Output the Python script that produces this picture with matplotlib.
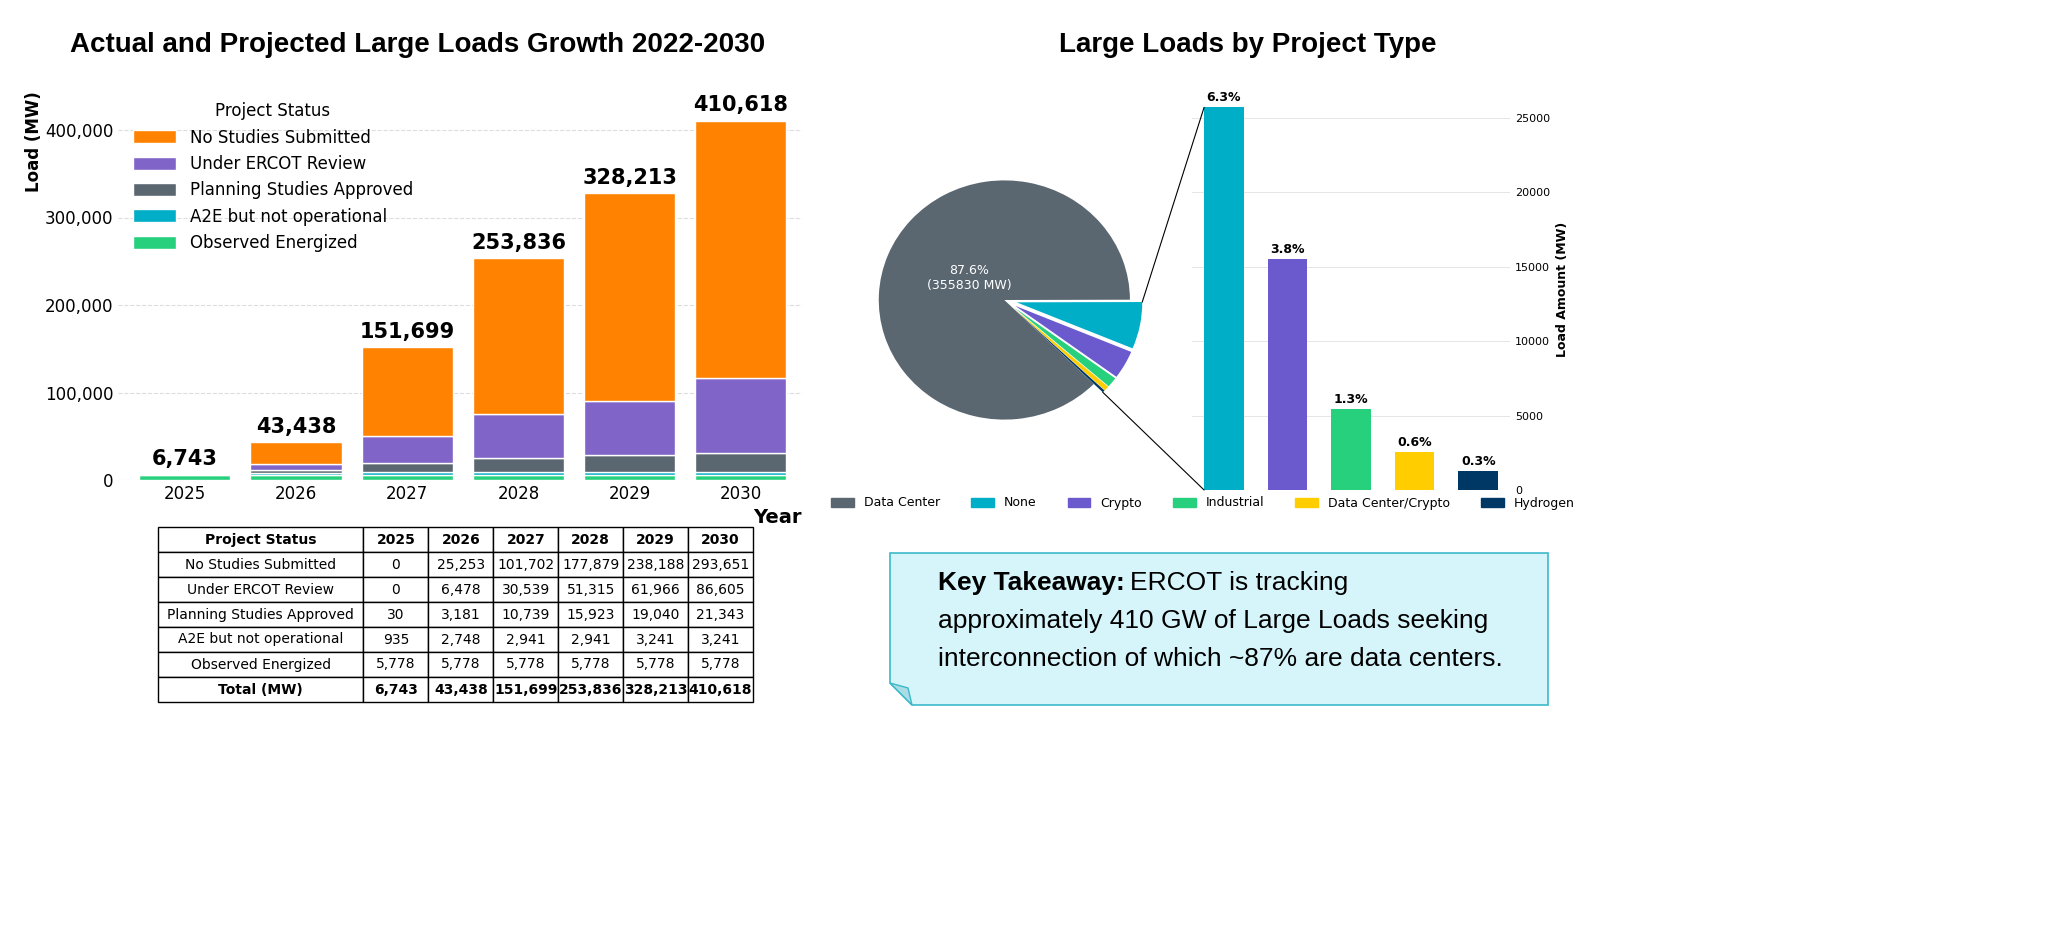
import numpy as np
import matplotlib.pyplot as plt
from matplotlib.patches import ConnectionPatch, Polygon

years = ["2025", "2026", "2027", "2028", "2029", "2030"]
statuses = ["Observed Energized", "A2E but not operational", "Planning Studies Approved",
            "Under ERCOT Review", "No Studies Submitted"]
observed = [5778, 5778, 5778, 5778, 5778, 5778]
a2e = [935, 2748, 2941, 2941, 3241, 3241]
planning = [30, 3181, 10739, 15923, 19040, 21343]
review = [0, 6478, 30539, 51315, 61966, 86605]
nostudy = [0, 25253, 101702, 177879, 238188, 293651]
totals = [6743, 43438, 151699, 253836, 328213, 410618]
status_colors = ["#26D07C", "#00AEC7", "#5B6770", "#8064C8", "#FF8300"]

types = ["Data Center", "None", "Crypto", "Industrial", "Data Center/Crypto", "Hydrogen"]
type_mw = [355830, 25700, 15500, 5450, 2550, 1300]
type_pct = ["87.6%", "6.3%", "3.8%", "1.3%", "0.6%", "0.3%"]
type_colors = ["#5B6770", "#00AEC7", "#6A5ACD", "#26D07C", "#FFCD00", "#003865"]

fig = plt.figure(figsize=(20.48, 9.5), dpi=100)
W, H = 2048, 950

def ax_px(x0, y0, x1, y1):
    return fig.add_axes([x0 / W, 1 - y1 / H, (x1 - x0) / W, (y1 - y0) / H])

# stacked bars
ax = ax_px(118, 95, 802, 480)
x = np.arange(len(years))
bottom = np.zeros(len(years))
series = [observed, a2e, planning, review, nostudy]
handles = []
for name, vals, c in zip(statuses, series, status_colors):
    h = ax.bar(x, vals, 0.82, bottom=bottom, color=c, edgecolor="white", linewidth=1, label=name)
    handles.append(h)
    bottom += np.array(vals)
for xi, t in zip(x, totals):
    ax.text(xi, t + 6000, f"{t:,}", ha="center", va="bottom", fontsize=15, fontweight="bold")
ax.set_xticks(x)
ax.set_xticklabels(years, fontsize=12)
ax.set_xlim(-0.6, 5.55)
ax.set_ylim(0, 440000)
ax.set_yticks([0, 100000, 200000, 300000, 400000])
ax.yaxis.set_major_formatter(plt.FuncFormatter(lambda v, p: f"{int(v):,}"))
ax.tick_params(axis="y", labelsize=12, length=0)
ax.tick_params(axis="x", length=0)
ax.grid(axis="y", linestyle="--", color="#dddddd")
ax.set_axisbelow(True)
for s in ax.spines.values():
    s.set_visible(False)
ax.set_ylabel("Load (MW)", fontsize=12, fontweight="bold")
ax.yaxis.set_label_coords(-0.11, 0.88)
ax.set_xlabel("Year", fontsize=14, fontweight="bold", loc="right")
ax.legend(handles[::-1], statuses[::-1], title="Project Status", loc="upper left",
          frameon=False, fontsize=12, title_fontsize=12, handlelength=2.6, handleheight=0.8,
          bbox_to_anchor=(0.0, 1.02))
fig.text(418 / W, 1 - 45 / H, "Actual and Projected Large Loads Growth 2022-2030",
         ha="center", va="center", fontsize=20, fontweight="bold", family="Liberation Sans")

# table
tax = ax_px(158, 527, 753, 702)
tax.axis("off")
rows = [["No Studies Submitted"] + [f"{v:,}" for v in nostudy],
        ["Under ERCOT Review"] + [f"{v:,}" for v in review],
        ["Planning Studies Approved"] + [f"{v:,}" for v in planning],
        ["A2E but not operational"] + [f"{v:,}" for v in a2e],
        ["Observed Energized"] + [f"{v:,}" for v in observed],
        ["Total (MW)"] + [f"{v:,}" for v in totals]]
tbl = tax.table(cellText=rows, colLabels=["Project Status"] + years, loc="center",
                cellLoc="center", bbox=[0, 0, 1, 1],
                colWidths=[0.345] + [0.109] * 6)
tbl.auto_set_font_size(False)
tbl.set_fontsize(10)
for (r, c), cell in tbl.get_celld().items():
    cell.set_linewidth(1)
    cell.PAD = 0.02
    if r == 0 or r == len(rows):
        cell.set_text_props(fontweight="bold")

# pie
fig.text(1248 / W, 1 - 45 / H, "Large Loads by Project Type", ha="center", va="center",
         fontsize=20, fontweight="bold", family="Liberation Sans")
pax = ax_px(875, 178, 1145, 422)
wedges, texts = pax.pie(type_mw, colors=type_colors, startangle=315.4, counterclock=False,
                        explode=[0, 0.1, 0.1, 0.1, 0.1, 0.1], radius=1.0)
pax.set_xlim(-1.03, 1.12)
pax.set_ylim(-1.02, 1.02)
pax.set_aspect("auto")
pax.text(-0.28, 0.18, f"{type_pct[0]}\n({type_mw[0]} MW)", ha="center", va="center",
         color="white", fontsize=9)

# bar of pie
bax = ax_px(1192, 88, 1510, 490)
bx = np.arange(len(types) - 1)
bax.bar(bx, type_mw[1:], 0.62, color=type_colors[1:])
for xi, v, p in zip(bx, type_mw[1:], type_pct[1:]):
    bax.text(xi, v + 200, p, ha="center", va="bottom", fontsize=9, fontweight="bold")
bax.set_xlim(-0.5, 4.5)
bax.set_ylim(0, 27000)
bax.set_xticks([])
bax.yaxis.tick_right()
bax.yaxis.set_label_position("right")
bax.set_yticks([0, 5000, 10000, 15000, 20000, 25000])
bax.tick_params(axis="y", labelsize=8, length=0)
bax.set_ylabel("Load Amount (MW)", fontsize=9, fontweight="bold")
bax.grid(axis="y", color="#e6e6e6", linewidth=0.7)
bax.set_axisbelow(True)
for s in bax.spines.values():
    s.set_visible(False)

w0 = wedges[1]
th1 = np.deg2rad(w0.theta2)
cx, cy = w0.center
r = w0.r
con = ConnectionPatch(xyA=(cx + r * np.cos(th1), cy + r * np.sin(th1)), coordsA=pax.transData,
                      xyB=(-0.31, type_mw[1]), coordsB=bax.transData, color="black", lw=0.8)
fig.add_artist(con)
w5 = wedges[-1]
th2 = np.deg2rad(w5.theta1)
cx, cy = w5.center
con = ConnectionPatch(xyA=(cx + r * np.cos(th2), cy + r * np.sin(th2)), coordsA=pax.transData,
                      xyB=(-0.31, 0), coordsB=bax.transData, color="black", lw=0.8)
fig.add_artist(con)

fig.legend([plt.Rectangle((0, 0), 1, 1, color=c) for c in type_colors], types,
           loc="center", bbox_to_anchor=(1203 / W, 1 - 503 / H), ncol=6, frameon=False,
           fontsize=9, handlelength=1.8, handleheight=0.7, columnspacing=2.5)

# key takeaway box
box = Polygon([(890 / W, 1 - 553 / H), (1548 / W, 1 - 553 / H), (1548 / W, 1 - 705 / H),
               (912 / W, 1 - 705 / H), (890 / W, 1 - 683 / H)], closed=True,
              transform=fig.transFigure, facecolor="#D5F5FB", edgecolor="#3CB9C9", lw=1.2)
fig.add_artist(box)
fold = Polygon([(890 / W, 1 - 683 / H), (912 / W, 1 - 705 / H), (908 / W, 1 - 688 / H)],
               closed=True, transform=fig.transFigure, facecolor="#A9DCE5",
               edgecolor="#3CB9C9", lw=1)
fig.add_artist(fold)
fig.text(938 / W, 1 - 583 / H, "Key Takeaway:", fontsize=19, fontweight="bold",
         family="Liberation Sans", va="center")
fig.text(1130 / W, 1 - 583 / H, "ERCOT is tracking", fontsize=19, family="Liberation Sans",
         va="center")
fig.text(938 / W, 1 - 621 / H, "approximately 410 GW of Large Loads seeking", fontsize=19,
         family="Liberation Sans", va="center")
fig.text(938 / W, 1 - 659 / H, "interconnection of which ~87% are data centers.", fontsize=19,
         family="Liberation Sans", va="center")

fig.savefig("out.png", dpi=100, facecolor="white")
